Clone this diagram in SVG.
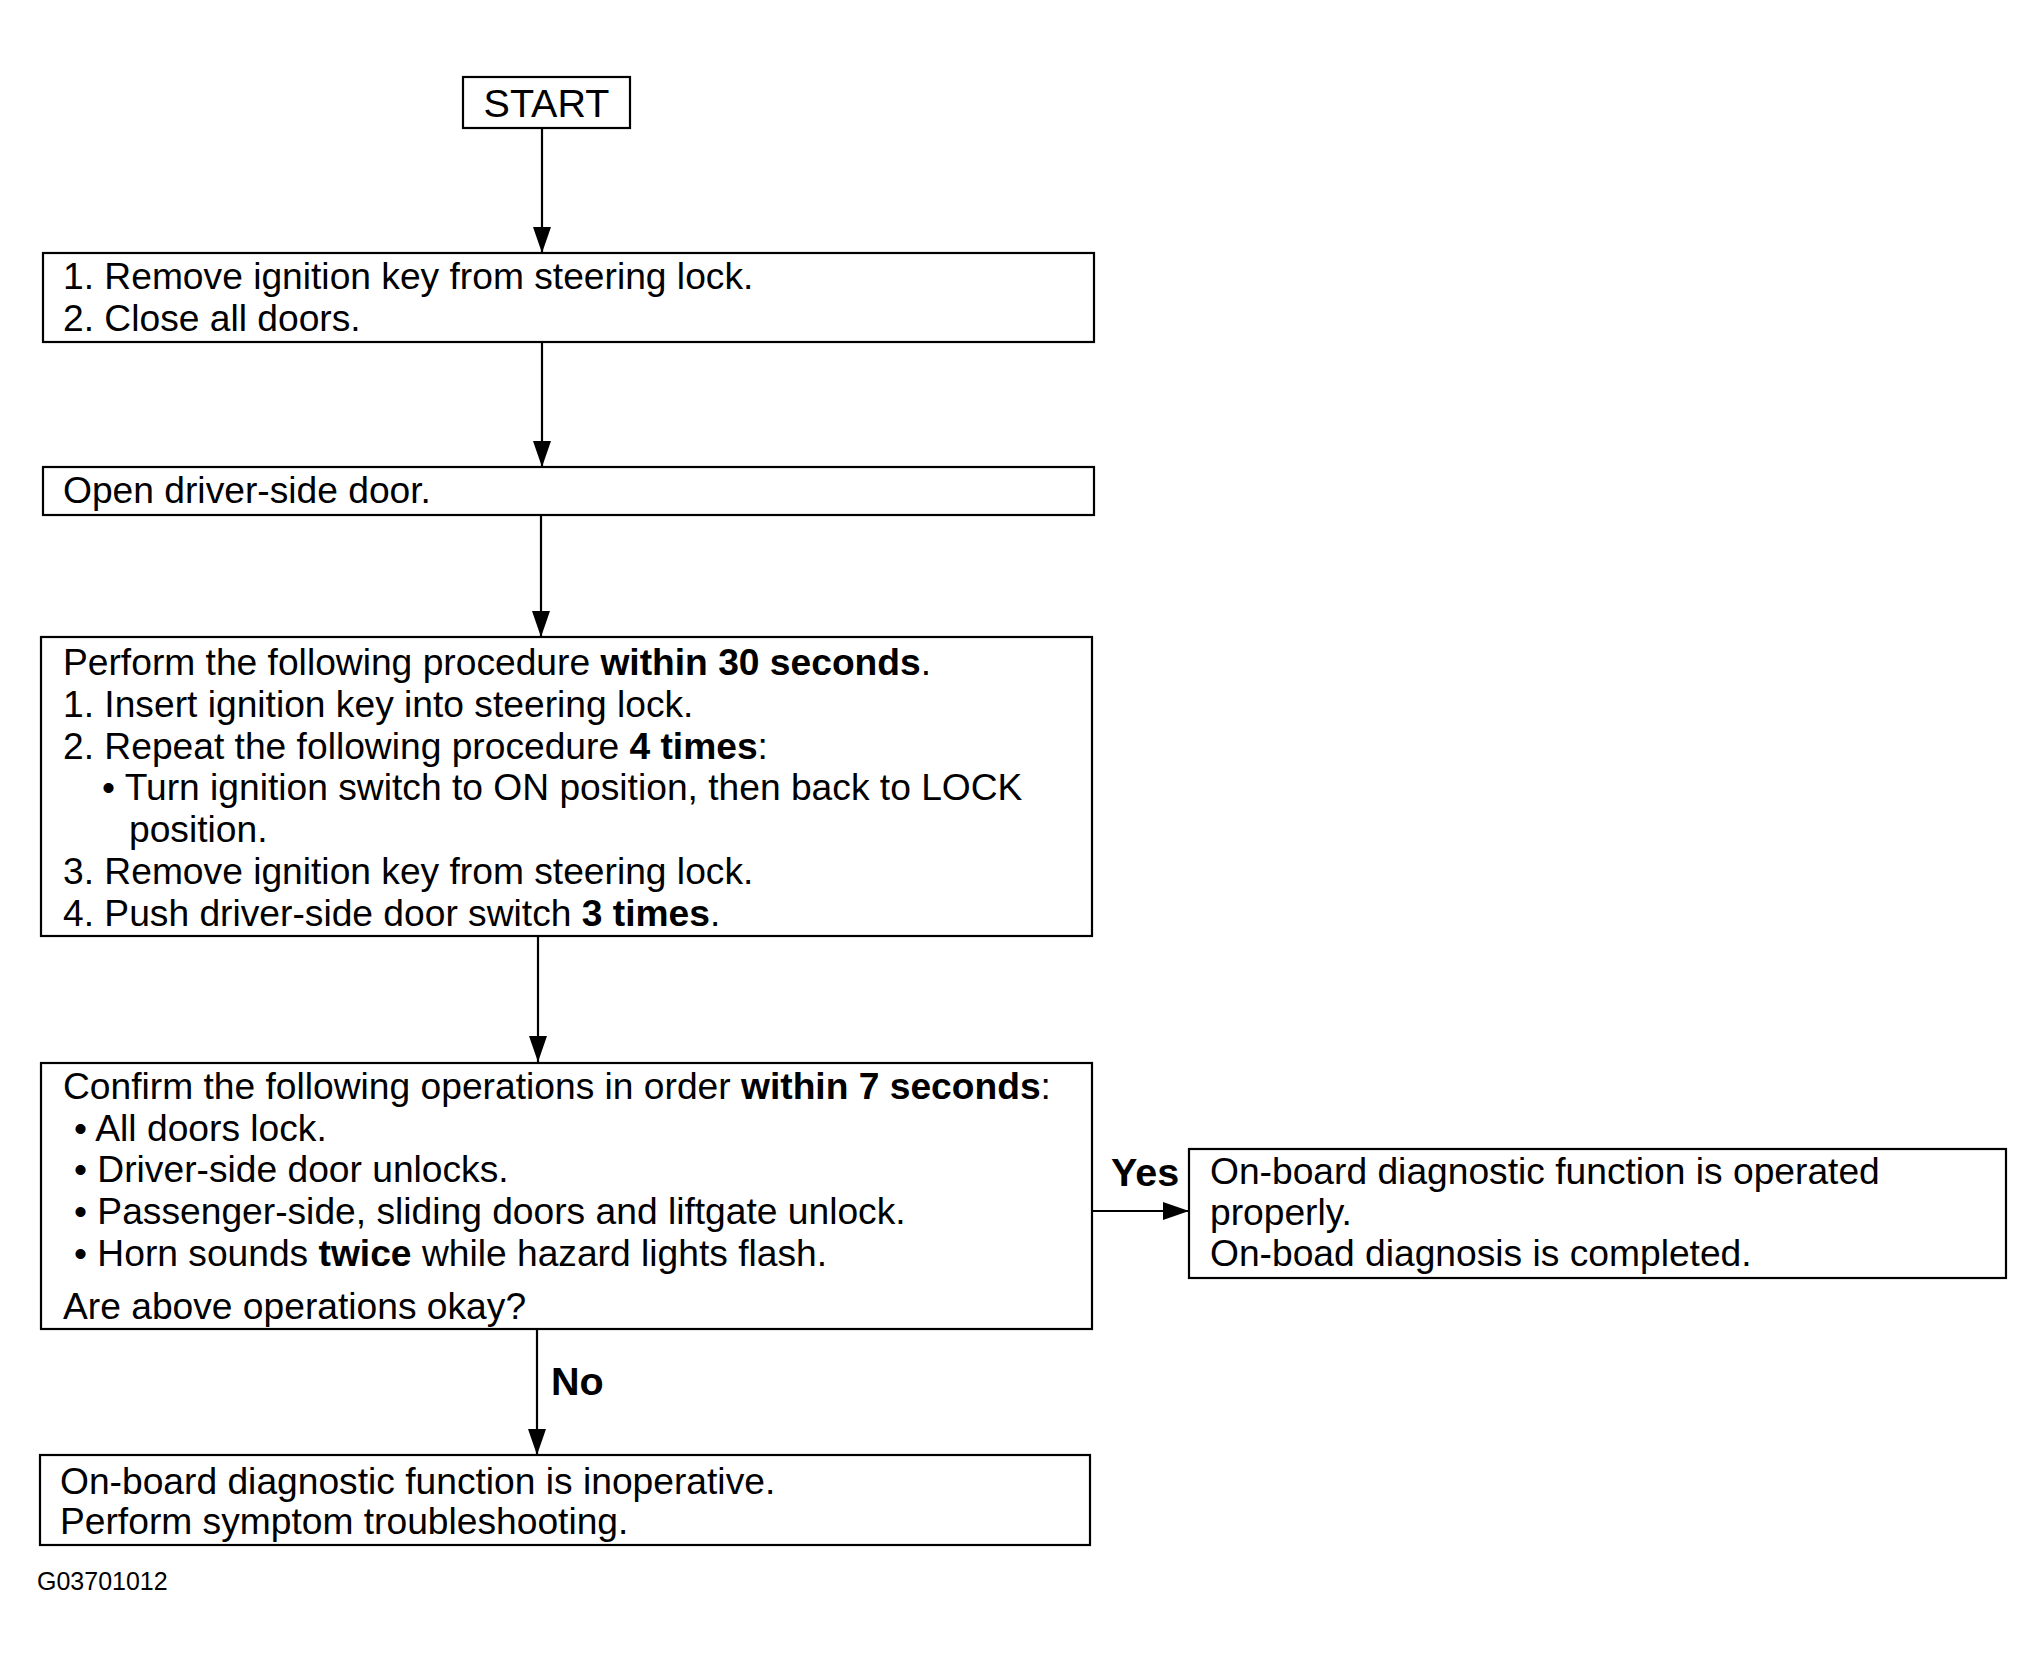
<svg xmlns="http://www.w3.org/2000/svg" width="2044" height="1666" viewBox="0 0 2044 1666">
<defs>
<style>
.box{fill:#fff;stroke:#000;stroke-width:2.2}
.t{font-family:"Liberation Sans",Arial,Helvetica,sans-serif;font-size:37.2px;fill:#000}
.b{font-weight:bold}
.lbl{font-family:"Liberation Sans",Arial,Helvetica,sans-serif;font-size:39.5px;font-weight:bold;fill:#000}
.edge{stroke:#000;stroke-width:2.2;fill:none;marker-end:url(#ah)}
</style>
<marker id="ah" markerUnits="userSpaceOnUse" markerWidth="28" markerHeight="18" refX="26" refY="9" orient="auto">
<path d="M0,0 L26,9 L0,18 z" fill="#000"/>
</marker>
</defs>
<rect width="2044" height="1666" fill="#fff"/>
<g id="connectors">
<line class="edge" x1="542" y1="128" x2="542" y2="253"/>
<line class="edge" x1="542" y1="342" x2="542" y2="467"/>
<line class="edge" x1="541" y1="515" x2="541" y2="637"/>
<line class="edge" x1="538" y1="936" x2="538" y2="1062"/>
<line class="edge" x1="1092" y1="1211" x2="1189" y2="1211"/>
<line class="edge" x1="537" y1="1329" x2="537" y2="1455"/>
<text class="lbl" x="1111" y="1186">Yes</text>
<text class="lbl" x="551" y="1395">No</text>
</g>
<g id="start">
<rect class="box" x="463" y="77" width="167" height="51"/>
<text class="t" x="546.5" y="117" text-anchor="middle" style="font-size:39.5px">START</text>
</g>
<g id="step1">
<rect class="box" x="43" y="253" width="1051" height="89"/>
<text class="t" x="63" y="289">1. Remove ignition key from steering lock.</text>
<text class="t" x="63" y="331">2. Close all doors.</text>
</g>
<g id="step2">
<rect class="box" x="43" y="467" width="1051" height="48"/>
<text class="t" x="63" y="503">Open driver-side door.</text>
</g>
<g id="step3">
<rect class="box" x="41" y="637" width="1051" height="299"/>
<text class="t" x="63" y="675">Perform the following procedure <tspan class="b">within 30 seconds</tspan>.</text>
<text class="t" x="63" y="717">1. Insert ignition key into steering lock.</text>
<text class="t" x="63" y="759">2. Repeat the following procedure <tspan class="b">4 times</tspan>:</text>
<text class="t" x="102" y="800">• Turn ignition switch to ON position, then back to LOCK</text>
<text class="t" x="129" y="842">position.</text>
<text class="t" x="63" y="884">3. Remove ignition key from steering lock.</text>
<text class="t" x="63" y="926">4. Push driver-side door switch <tspan class="b">3 times</tspan>.</text>
</g>
<g id="check">
<rect class="box" x="41" y="1063" width="1051" height="266"/>
<text class="t" x="63" y="1099">Confirm the following operations in order <tspan class="b">within 7 seconds</tspan>:</text>
<text class="t" x="74" y="1141">• All doors lock.</text>
<text class="t" x="74" y="1182">• Driver-side door unlocks.</text>
<text class="t" x="74" y="1224">• Passenger-side, sliding doors and liftgate unlock.</text>
<text class="t" x="74" y="1266">• Horn sounds <tspan class="b">twice</tspan> while hazard lights flash.</text>
<text class="t" x="63" y="1319">Are above operations okay?</text>
</g>
<g id="yes-result">
<rect class="box" x="1189" y="1149" width="817" height="129"/>
<text class="t" x="1210" y="1184">On-board diagnostic function is operated</text>
<text class="t" x="1210" y="1225">properly.</text>
<text class="t" x="1210" y="1266">On-boad diagnosis is completed.</text>
</g>
<g id="no-result">
<rect class="box" x="40" y="1455" width="1050" height="90"/>
<text class="t" x="60" y="1494">On-board diagnostic function is inoperative.</text>
<text class="t" x="60" y="1534">Perform symptom troubleshooting.</text>
</g>
<text class="t" x="37" y="1590" style="font-size:25px">G03701012</text>
</svg>
